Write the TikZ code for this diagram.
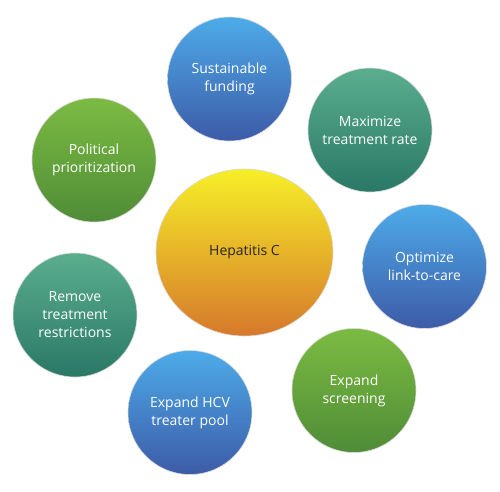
\documentclass[tikz,border=0pt]{standalone}
\usepackage{fontspec}
\setmainfont{Open Sans}
\usepackage{tikz}
\usetikzlibrary{shapes.geometric}
\definecolor{blueTop}{HTML}{4DABE9}
\definecolor{blueMid}{HTML}{4282CE}
\definecolor{blueBot}{HTML}{3D5BA7}
\definecolor{tealTop}{HTML}{5AAE8E}
\definecolor{tealMid}{HTML}{30A083}
\definecolor{tealBot}{HTML}{2A7866}
\definecolor{grnTop}{HTML}{7CBB42}
\definecolor{grnMid}{HTML}{70B040}
\definecolor{grnBot}{HTML}{4F8C37}
\definecolor{hubTop}{HTML}{F6EF28}
\definecolor{hubMid}{HTML}{E6BB2C}
\definecolor{hubBot}{HTML}{D6782B}

\begin{document}
\begin{tikzpicture}[
    x=1pt, y=-1pt,
    bubble/.style={circle, minimum size=124pt, inner sep=0pt, align=center,
        draw=white!85!black, line width=0.6pt, text=white,
        font=\fontsize{14}{18}\selectfont},
    bluebub/.style={bubble, top color=blueTop, middle color=blueMid, bottom color=blueBot},
    tealbub/.style={bubble, top color=tealTop, middle color=tealMid, bottom color=tealBot},
    greenbub/.style={bubble, top color=grnTop, middle color=grnMid, bottom color=grnBot},
    hubbub/.style={ellipse, minimum width=177pt, minimum height=167pt, inner sep=0pt,
        draw=white!85!black, line width=0.6pt, text=black!85,
        top color=hubTop, middle color=hubMid, bottom color=hubBot,
        font=\fontsize{14}{18}\selectfont},
]
\useasboundingbox (0,0) rectangle (500,491);

\node[hubbub] (hcv) at (244.5,252.5) {Hepatitis C};

\node[bluebub]  (funding)  at (229.5,79)  {Sustainable\\funding};
\node[tealbub]  (maxrate)  at (370,130)   {Maximize\\treatment rate};
\node[bluebub]  (link)     at (424.5,266.5) {Optimize\\link-to-care};
\node[greenbub] (screen)   at (354,390.5) {Expand\\screening};
\node[bluebub]  (treater)  at (190,412.5) {Expand HCV\\treater pool};
\node[tealbub]  (restrict) at (75,315)    {Remove\\treatment\\restrictions};
\node[greenbub] (politics) at (94,160)    {Political\\prioritization};
\end{tikzpicture}
\end{document}
